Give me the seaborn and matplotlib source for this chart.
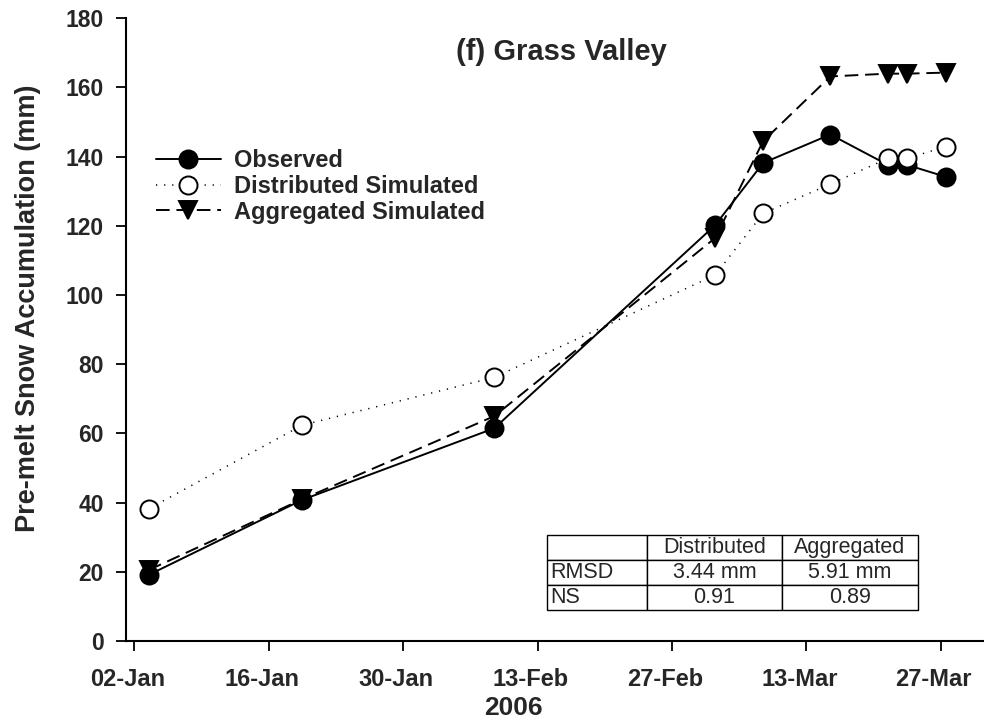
import matplotlib
matplotlib.use("Agg")
import matplotlib.pyplot as plt
import matplotlib.dates as mdates
import matplotlib.transforms as mtransforms
import seaborn as sns
import pandas as pd

# Survey dates and pre-melt snow accumulation (mm), Grass Valley 2006
sample_dates = ["2006-01-03 12:00", "2006-01-19 12:00", "2006-02-08 12:00",
                "2006-03-03 12:00", "2006-03-08 12:00", "2006-03-15 12:00",
                "2006-03-21 12:00", "2006-03-23 12:00", "2006-03-27 12:00"]
observed = [19.1, 40.8, 61.5, 120.2, 138.2, 146.4, 137.6, 137.6, 134.2]
distributed = [38.2, 62.4, 76.2, 105.8, 123.6, 132.1, 139.5, 139.5, 142.9]
aggregated = [20.5, 41.0, 65.0, 116.5, 144.5, 163.2, 164.0, 164.0, 164.3]

series_names = ["Observed", "Distributed Simulated", "Aggregated Simulated"]

tick_dates = ["2006-01-02", "2006-01-16", "2006-01-30", "2006-02-13",
              "2006-02-27", "2006-03-13", "2006-03-27"]
tick_labels = ["02-Jan", "16-Jan", "30-Jan", "13-Feb", "27-Feb", "13-Mar", "27-Mar"]
y_ticks = [0, 20, 40, 60, 80, 100, 120, 140, 160, 180]

table_header = ["", "Distributed", "Aggregated"]
table_rows = [["RMSD", "3.44 mm", "5.91 mm"],
              ["NS", "0.91", "0.89"]]

sns.set_theme(style="white")
plt.rcParams["font.family"] = ["Liberation Sans", "DejaVu Sans"]
plt.rcParams["font.weight"] = "bold"

W, H = 984, 723
fig = plt.figure(figsize=(W / 100, H / 100), dpi=100)
fig.patch.set_facecolor("white")
ax = fig.add_axes([126 / W, 1 - 641 / H, (W - 126) / W, (641 - 18.3) / H])
ax.set_facecolor("white")

df = pd.DataFrame({
    "date": pd.to_datetime(sample_dates * 3),
    "value": observed + distributed + aggregated,
    "series": sum([[n] * len(sample_dates) for n in series_names], []),
})

styles = {
    "Observed": dict(marker="o", markerfacecolor="black", linestyle="-",
                     linewidth=1.4),
    "Distributed Simulated": dict(marker="o", markerfacecolor="white",
                                  linestyle=(0, (0.8, 4.5)), linewidth=1.1),
    "Aggregated Simulated": dict(marker="v", markerfacecolor="black",
                                 linestyle=(0, (7, 3.5)), linewidth=1.4),
}

for name in series_names:
    sub = df[df["series"] == name]
    st = styles[name]
    sns.lineplot(data=sub, x="date", y="value", ax=ax, color="black",
                 label=name, marker=st["marker"], markersize=13,
                 markerfacecolor=st["markerfacecolor"], markeredgecolor="black",
                 markeredgewidth=1.4, linestyle=st["linestyle"],
                 linewidth=st["linewidth"], sort=False)

x0 = mdates.date2num(pd.Timestamp("2006-01-02"))
ax.set_xlim(x0 - 0.86, x0 + 88.5)
ax.set_ylim(0, 180)

ax.set_xticks(mdates.date2num(pd.to_datetime(tick_dates)))
ax.set_xticklabels(tick_labels, fontsize=17, fontweight="bold")
ax.set_yticks(y_ticks)
ax.set_yticklabels([str(v) for v in y_ticks], fontsize=16.5, fontweight="bold")
ax.tick_params(axis="x", direction="out", length=7, width=1.3, pad=12.5,
               color="black", bottom=True)
ax.tick_params(axis="y", direction="out", length=7, width=1.3, pad=9,
               color="black", left=True)
ax.set_xlabel("")
ax.set_ylabel("")

# date labels sit slightly left of their ticks
shift = mtransforms.ScaledTranslation(-7 / 100, 0, fig.dpi_scale_trans)
for lbl in ax.get_xticklabels():
    lbl.set_transform(lbl.get_transform() + shift)

for side in ("top", "right"):
    ax.spines[side].set_visible(False)
for side in ("left", "bottom"):
    ax.spines[side].set_color("black")
    ax.spines[side].set_linewidth(1.5)

fig.text(28.5 / W, 1 - 308 / H, "Pre-melt Snow Accumulation (mm)", rotation=90,
         ha="center", va="center", fontsize=19.5, fontweight="bold")
fig.text(513 / W, 1 - 708 / H, "2006", ha="center", va="center",
         fontsize=19, fontweight="bold")
fig.text(561 / W, 1 - 52 / H, "(f) Grass Valley", ha="center", va="center",
         fontsize=21, fontweight="bold")

leg = ax.legend(loc="upper left", bbox_to_anchor=(0.035, 0.79), frameon=False,
                borderpad=0, borderaxespad=0, handlelength=2.75,
                handletextpad=0.55, labelspacing=0.12,
                prop={"size": 17, "weight": "bold"})

# Summary statistics table in the lower right of the plot area
tbl = ax.table(cellText=[table_header] + table_rows,
               colWidths=[100, 135, 136],
               bbox=[(547 - 126) / (W - 126), (641 - 610) / (641 - 18.3),
                     (918 - 547) / (W - 126), (610 - 535) / (641 - 18.3)])
tbl.auto_set_font_size(False)
for (r, c), cell in tbl.get_celld().items():
    cell.set_edgecolor("black")
    cell.set_linewidth(1.0)
    txt = cell.get_text()
    txt.set_fontsize(15.5)
    txt.set_fontweight("normal")
    if c == 0:
        cell._loc = "left"
        txt.set_ha("left")
        cell.PAD = 0.03
    else:
        txt.set_ha("center")
        cell._loc = "center"

fig.savefig("out.png", dpi=100, facecolor="white")
